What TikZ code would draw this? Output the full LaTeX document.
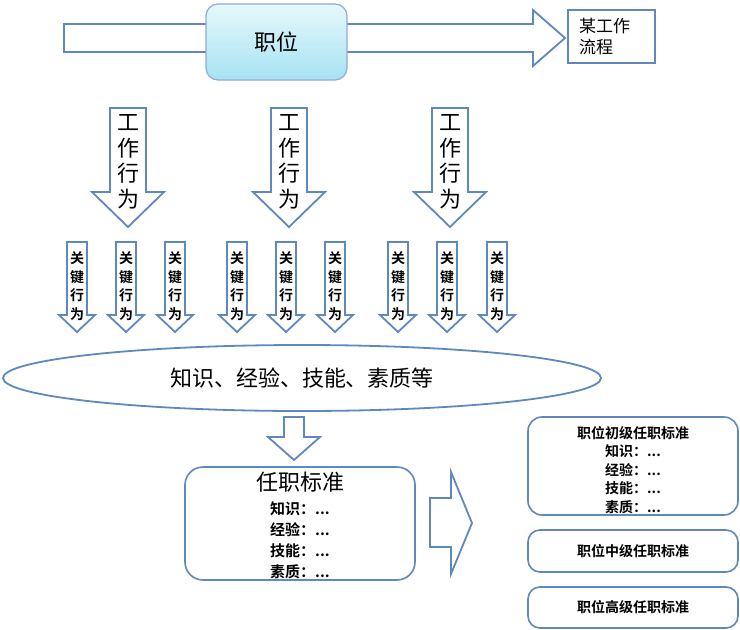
\documentclass[tikz,border=0pt]{standalone}
\usepackage{fontspec}
\setmainfont{Liberation Serif}
\newfontfamily\cjk[BoldFont={Noto Sans CJK SC Bold}]{Noto Sans CJK SC}
\usetikzlibrary{shapes.geometric}
\definecolor{blu}{HTML}{5F89BE}
\definecolor{cyantop}{HTML}{E6F8FC}
\definecolor{cyanbot}{HTML}{A6E2F2}
\tikzset{
  arrowline/.style={draw=blu, line width=1.8pt, fill=white, line join=miter},
  rbox/.style={draw=blu, line width=1.6pt, fill=white, rounded corners=16pt, inner sep=0pt},
  sbox/.style={draw=blu, line width=1.8pt, fill=white, inner sep=0pt},
  wbtext/.style={font=\cjk\fontsize{22}{25.5}\selectfont, align=center, inner sep=0pt},
  kbtext/.style={font=\cjk\bfseries\fontsize{14}{18.5}\selectfont, align=center, inner sep=0pt},
}
\newcommand\blkdn[6]{%
  \draw[arrowline] (#1-#3,#2) -- (#1+#3,#2) -- (#1+#3,#4) -- (#1+#5,#4) -- (#1,#6) -- (#1-#5,#4) -- (#1-#3,#4) -- cycle;}
\begin{document}
\begin{tikzpicture}[x=1pt,y=-1pt]
\useasboundingbox (0,0) rectangle (740,630);
\fill[white] (0,0) rectangle (740,630);
% top process arrow
\draw[arrowline] (64,24) -- (533,24) -- (533,10) -- (565,38) -- (533,66) -- (533,52) -- (64,52) -- cycle;
\node[draw=blu!70, line width=1.2pt, rounded corners=12pt, top color=cyantop, bottom color=cyanbot,
  minimum width=141pt, minimum height=76pt, font=\cjk\fontsize{22}{26}\selectfont] (pos) at (276.5,42) {职位};
\node[sbox, minimum width=87pt, minimum height=53pt] (flow) at (611.5,36.5) {};
\node[anchor=west, align=left, inner sep=0pt, font=\cjk\fontsize{17}{21.5}\selectfont] (flowt) at (579,36.5) {某工作\\流程};
% work behaviour arrows
\foreach \cx/\n in {128/1,289/2,450/3}{
  \blkdn{\cx}{108}{18}{192}{36}{227}
  \node[wbtext] (wb\n) at (\cx,162) {工\\作\\行\\为};
}
% key behaviour arrows
\foreach \cx/\n in {77/1,126/2,175/3,237/4,286/5,335/6,398/7,447/8,497/9}{
  \blkdn{\cx}{242}{10}{315}{18}{332}
  \node[kbtext] (kb\n) at (\cx,286) {关\\键\\行\\为};
}
% ellipse
\node[ellipse, draw=blu, line width=1.8pt, fill=white, minimum width=598pt, minimum height=66pt,
  font=\cjk\fontsize{22}{26}\selectfont] (ell) at (302,378) {知识、经验、技能、素质等};
% small down arrow
\blkdn{294}{417}{10}{437}{26}{460}
% standard box
\node[rbox, rounded corners=18pt, minimum width=230pt, minimum height=113pt] (std) at (300,523.5) {};
\node[inner sep=0pt, font=\cjk\fontsize{22}{26}\selectfont] (stdt) at (300,482) {任职标准};
\node[inner sep=0pt, align=center, font=\cjk\bfseries\fontsize{15}{21}\selectfont] (stdl) at (300,540) {知识：...\\经验：...\\技能：...\\素质：...};
% right arrow
\draw[arrowline] (430,498) -- (451,498) -- (451,472) -- (472,523) -- (451,574) -- (451,547) -- (430,547) -- cycle;
% right boxes
\node[rbox, rounded corners=14pt, minimum width=210pt, minimum height=98pt] (lv1) at (633,466) {};
\node[inner sep=0pt, align=center, font=\cjk\bfseries\fontsize{14}{18.5}\selectfont] (lv1t) at (633,470) {职位初级任职标准\\知识：...\\经验：...\\技能：...\\素质：...};
\node[rbox, rounded corners=12pt, minimum width=210pt, minimum height=42pt,
  font=\cjk\bfseries\fontsize{14}{17}\selectfont] (lv2) at (633,551) {职位中级任职标准};
\node[rbox, rounded corners=12pt, minimum width=210pt, minimum height=41pt,
  font=\cjk\bfseries\fontsize{14}{17}\selectfont] (lv3) at (633,607.5) {职位高级任职标准};
\end{tikzpicture}
\end{document}
